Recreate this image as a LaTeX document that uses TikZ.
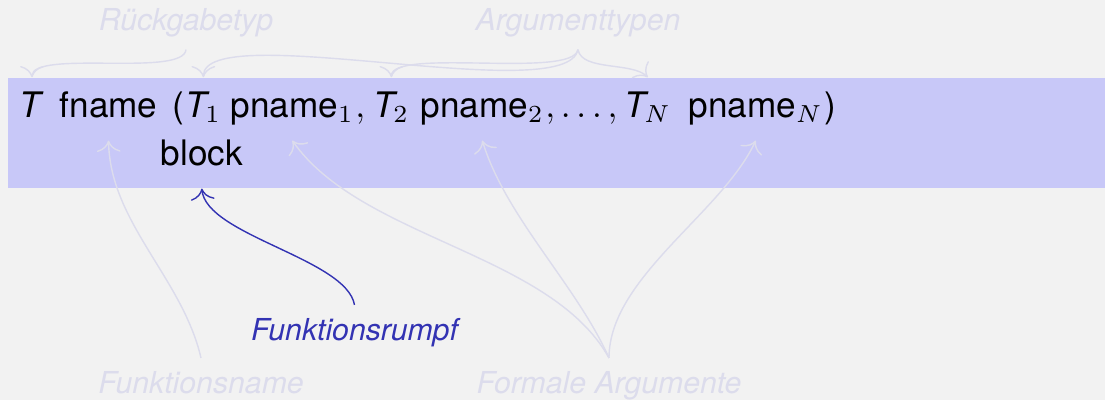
\documentclass[tikz,border=0pt]{standalone}
\usepackage[no-math]{fontspec}
\setmainfont{TeX Gyre Heros}
\usetikzlibrary{arrows.meta, positioning}
\definecolor{slidebg}{RGB}{242,242,242}
\definecolor{bandblue}{RGB}{200,200,248}
\definecolor{faded}{RGB}{220,220,236}
\definecolor{rumpfblue}{RGB}{51,51,179}
\newcommand{\argtype}[1]{\textit{T}\kern-1.4pt$_{#1}$}

\begin{document}
\begin{tikzpicture}[
    sig/.style={inner xsep=0pt, inner ysep=0pt, text height=11.1pt,
                text depth=6.5pt, anchor=base west,
                font=\fontsize{10}{12}\selectfont},
    faintlbl/.style={anchor=base, inner sep=3.5pt,
                     font=\fontsize{8.6}{10}\selectfont\itshape, text=faded},
    hint/.style={-{To[scale=1.3]}, faded},
]

% slide background and the highlighted band
\useasboundingbox (0,0) rectangle (11.05,4);
\fill[slidebg] (0,0) rectangle (11.05,4);
\fill[bandblue] (0.08,2.12) rectangle (11.05,3.22);

% signature line
\node[sig] (rtype)  at (0.19,2.83) {\textit{T}};
\node[sig] (fname)  at (0.59,2.83) {fname};
\node[sig] (lpar)   at (1.72,2.83) {(};
\node[sig] (T1)     at (1.85,2.83) {\argtype{1}};
\node[sig] (pname1) at (2.30,2.83) {pname$_1$};
\node[sig, base right=0pt of pname1] (comma) {$,$};
\node[sig] (T2)     at (3.73,2.83) {\argtype{2}};
\node[sig] (pname2) at (4.20,2.83) {pname$_2$};
\node[sig, base right=0pt of pname2] (dots) {$, \ldots ,$};
\node[sig] (TN)     at (6.24,2.83) {\argtype{N}};
\node[sig] (pnameN) at (6.88,2.83) {pname$_N$};
\node[sig, base right=0pt of pnameN] (rpar) {)};
\node[sig] (block)  at (1.60,2.35) {block};

% annotations
\node[faintlbl] (rtlabel) at (1.86,3.70) {Rückgabetyp};
\node[faintlbl] (atlabel) at (5.78,3.70) {Argumenttypen};
\node[faintlbl] (fnlabel) at (2.01,0.07) {Funktionsname};
\node[faintlbl] (falabel) at (6.09,0.07) {Formale Argumente};
\node[faintlbl, text=rumpfblue] (rblabel) at (3.545,0.60) {Funktionsrumpf};

\draw[hint] (rtlabel.south) to[out=-95,in=90,distance=0.28cm] (rtype.north);
\draw[hint] (atlabel.south) to[out=-101,in=90,distance=0.6cm] (T1.north);
\draw[hint] (atlabel.south) to[out=-100,in=90,distance=0.3cm] (T2.north);
\draw[hint] (atlabel.south) to[out=-80,in=135,distance=0.22cm] (TN.north);
\draw[hint] (fnlabel.north) to[out=103,in=-89,distance=0.82cm] (fname.south);
\draw[hint] (falabel.north) to[out=119,in=-55,distance=1.2cm] (pname1.south);
\draw[hint] (falabel.north) to[out=114,in=-73,distance=0.8cm] (pname2.south);
\draw[hint] (falabel.north) to[out=90,in=-115,distance=0.8cm] (pnameN.south);
\draw[-{To[scale=1.3]}, rumpfblue] (rblabel.north)
     to[out=100,in=-85,distance=0.47cm] (block.south);

\end{tikzpicture}
\end{document}
